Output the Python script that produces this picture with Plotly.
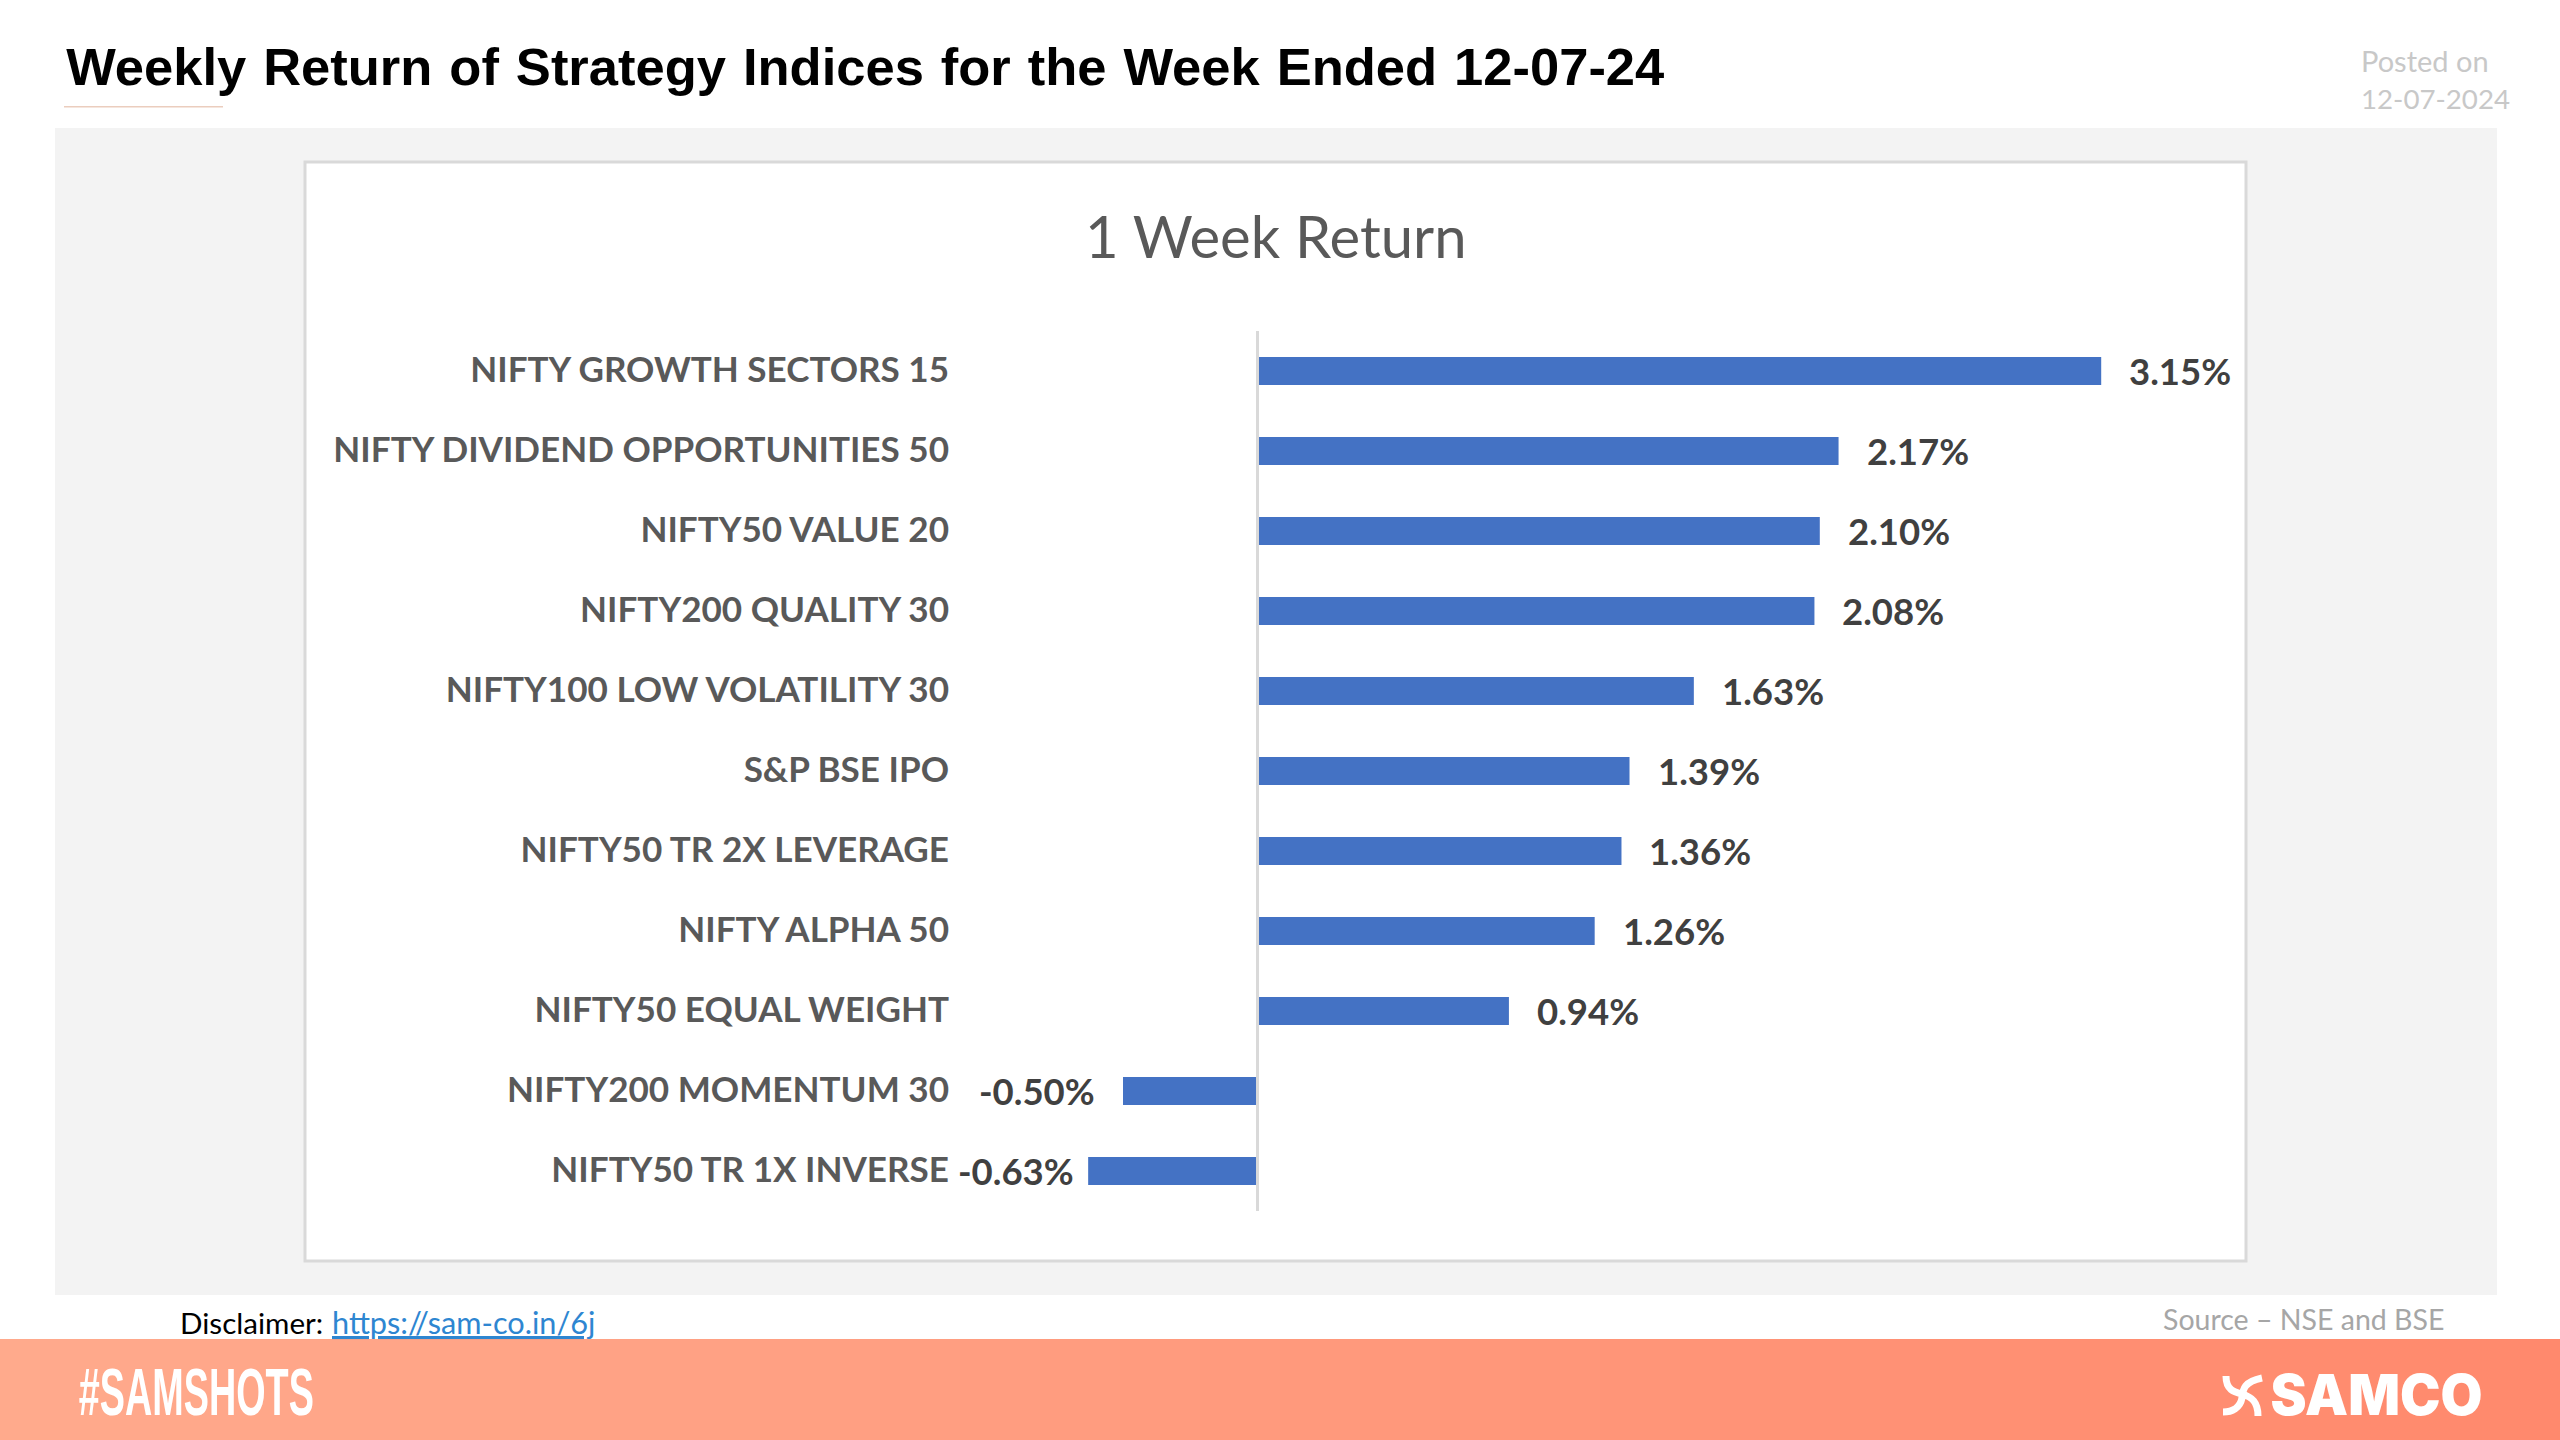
import plotly.graph_objects as go

W = 2560
H = 1440

categories = [
    'NIFTY GROWTH SECTORS 15',
    'NIFTY DIVIDEND OPPORTUNITIES 50',
    'NIFTY50 VALUE 20',
    'NIFTY200 QUALITY 30',
    'NIFTY100 LOW VOLATILITY 30',
    'S&P BSE IPO',
    'NIFTY50 TR 2X LEVERAGE',
    'NIFTY ALPHA 50',
    'NIFTY50 EQUAL WEIGHT',
    'NIFTY200 MOMENTUM 30',
    'NIFTY50 TR 1X INVERSE',
]
returns = [3.15, 2.17, 2.10, 2.08, 1.63, 1.39, 1.36, 1.26, 0.94, -0.50, -0.63]

BAR_BLUE = '#4472C4'
BODY_FONT = 'Lato'
HEAD_FONT = 'Liberation Sans'


def px(x):
    return x / W


def py(y):
    return 1 - y / H


def rect(x0, y0, x1, y1, fill, line=None, width=0):
    return dict(type='rect', xref='paper', yref='paper', layer='below',
                x0=px(x0), x1=px(x1), y0=py(y0), y1=py(y1),
                fillcolor=fill, line=dict(color=line, width=width))


def label(x, y, text, size, color, family=BODY_FONT, anchor='left', weight='normal'):
    return dict(xref='paper', yref='paper', x=px(x), y=py(y), text=text,
                showarrow=False, xanchor=anchor, yanchor='middle',
                font=dict(family=family, size=size, color=color, weight=weight))


def curve(points):
    # first point is the move, the rest come in bezier triples
    out = 'M %f %f' % (px(points[0][0]), py(points[0][1]))
    for i in range(1, len(points), 3):
        out += ' C ' + ' '.join('%f %f' % (px(a), py(b)) for a, b in points[i:i + 3])
    return out


fig = go.Figure(go.Bar(x=returns, y=categories, orientation='h',
                       marker=dict(color=BAR_BLUE, line=dict(width=0))))

shapes = [
    rect(55, 128, 2497, 1295, '#F3F3F3'),
    rect(305, 162, 2246, 1261, '#FFFFFF', '#D9D9D9', 3),
    rect(64, 106, 223, 107.5, '#EBCDBE'),
]

# footer band, left to right fade
steps = 64
start = (255, 170, 140)
end = (255, 137, 109)
for i in range(steps):
    t = i / (steps - 1)
    c = tuple(round(a + (b - a) * t) for a, b in zip(start, end))
    shapes.append(rect(W * i / steps, 1339, W * (i + 1) / steps + 1, H, 'rgb(%d,%d,%d)' % c))

# logo mark
logo_strokes = [
    [(2226, 1376), (2226, 1390), (2234, 1392), (2242, 1394), (2252, 1397), (2258, 1402), (2258, 1416)],
    [(2223, 1412), (2232, 1412), (2240, 1408), (2242, 1398), (2243, 1390), (2243, 1382), (2262, 1378)],
]
for pts in logo_strokes:
    shapes.append(dict(type='path', xref='paper', yref='paper', path=curve(pts),
                       line=dict(color='white', width=7)))

annotations = [
    label(865, 67, '<b>Weekly Return of Strategy Indices for the Week Ended 12-07-24</b>', 52.5, '#000000', HEAD_FONT, 'center'),
    label(2359, 61, 'Posted on', 29, '#C8C8C8'),
    label(2359, 99, '12-07-2024', 27.7, '#C8C8C8'),
    label(1276, 236, '1 Week Return', 58, '#595959', anchor='center'),
    label(178, 1322, 'Disclaimer:', 29.6, '#000000'),
    label(330, 1322, '<u>https://sam-co.in/6j</u>', 30.7, '#2E86D1'),
    label(2161, 1319, 'Source – NSE and BSE', 28.5, '#A6A6A6'),
    label(196.5, 1392, '<b>#SAMSHOTS</b>', 66, '#FFFFFF', HEAD_FONT, 'center'),
    label(2376, 1395, 'SAMCO', 56, '#FFFFFF', 'Inter', 'center', 900),
]

for cat, val in zip(categories, returns):
    # the lowest label sits tighter against its bar
    gap = 12 if val == min(returns) else 26
    annotations.append(dict(x=val, y=cat, xref='x', yref='y', text='<b>%.2f%%</b>' % val,
                            showarrow=False, xanchor='left' if val >= 0 else 'right',
                            xshift=gap if val >= 0 else -gap,
                            font=dict(family=BODY_FONT, size=36.5, color='#404040')))

fig.update_layout(
    width=W, height=H, margin=dict(l=0, r=0, t=0, b=0),
    paper_bgcolor='white', plot_bgcolor='rgba(0,0,0,0)',
    showlegend=False, bargap=0.65,
    shapes=shapes, annotations=annotations,
    xaxis=dict(domain=[px(950), px(2230)], range=[(950 - 1257) / 268, (2230 - 1257) / 268],
               showgrid=False, showticklabels=False, ticks='',
               zeroline=True, zerolinecolor='#D9D9D9', zerolinewidth=3,
               zerolinelayer='above traces'),
    yaxis=dict(domain=[py(1211), py(331)], autorange='reversed', type='category',
               showgrid=False, showline=False, ticks='', ticklabelshift=1,
               tickfont=dict(family=BODY_FONT, size=35.1, color='#595959', weight='bold')),
)

# no condensed cut here, so squeeze the footer words to their width; open up the title's word gaps
post = """
document.body.style.margin='0';
document.querySelectorAll('.annotation-text').forEach(function(t){
  var s=t.textContent;
  if(s==='#SAMSHOTS'){t.setAttribute('textLength','235');t.setAttribute('lengthAdjust','spacingAndGlyphs');}
  if(s==='SAMCO'){t.setAttribute('textLength','212');t.setAttribute('lengthAdjust','spacingAndGlyphs');}
  if(s.indexOf('Weekly Return')===0){t.style.wordSpacing='2.4px';}
});
"""
fig.write_html('out.html', post_script=post, config={'displayModeBar': False})
